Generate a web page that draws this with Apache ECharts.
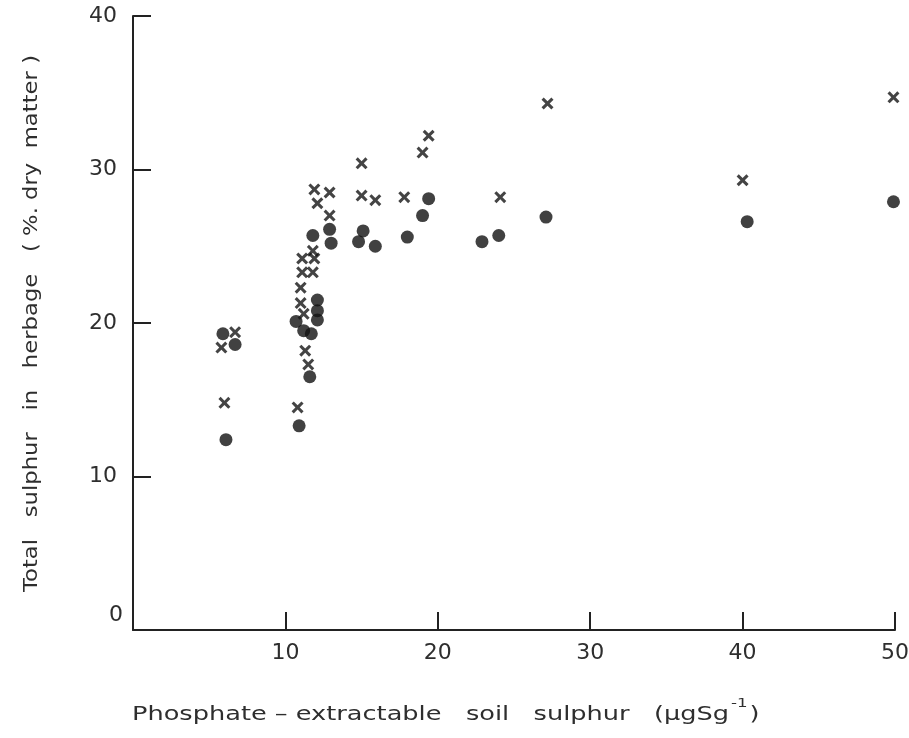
<!DOCTYPE html>
<html><head><meta charset="utf-8">
<script src="https://cdn.jsdelivr.net/npm/echarts@6/dist/echarts.min.js"></script>
<style>html,body{margin:0;padding:0;background:#fff}#c{width:909px;height:738px}</style>
</head><body><div id="c"></div>
<script>
// Phosphate-extractable soil sulphur (x) vs total sulphur in herbage (y)
const crossX = [5.8, 6.7, 6.0, 10.8, 11.0, 11.0, 11.1, 11.1, 11.8, 11.9, 11.8, 11.9, 12.1, 12.9, 12.9, 11.3, 11.5, 11.2, 15.0, 15.0, 15.9, 17.8, 19.0, 19.4, 24.1, 27.2, 40.0, 49.9];
const crossY = [18.4, 19.4, 14.8, 14.5, 21.3, 22.3, 23.3, 24.2, 23.3, 24.2, 24.7, 28.7, 27.8, 28.5, 27.0, 18.2, 17.3, 20.6, 30.4, 28.3, 28.0, 28.2, 31.1, 32.2, 28.2, 34.3, 29.3, 34.7];
const dotX = [5.9, 6.7, 6.1, 10.9, 11.6, 10.7, 11.2, 11.7, 12.1, 12.1, 12.1, 11.8, 12.9, 13.0, 14.8, 15.1, 15.9, 18.0, 19.0, 19.4, 22.9, 24.0, 27.1, 40.3, 49.9];
const dotY = [19.3, 18.6, 12.4, 13.3, 16.5, 20.1, 19.5, 19.3, 20.2, 20.8, 21.5, 25.7, 26.1, 25.2, 25.3, 26.0, 25.0, 25.6, 27.0, 28.1, 25.3, 25.7, 26.9, 26.6, 27.9];
const xTicks = [10, 20, 30, 40, 50];
const yTicks = [10, 20, 30, 40];
const xTitle = 'Phosphate \u2013 extractable   soil   sulphur   (\u03bcgSg';
const xTitleSup = '-1';
const xTitleEnd = ')';
const yTitle = 'Total   sulphur   in   herbage   ( %. dry  matter )';

const pairs = (xs, ys) => xs.map((v, i) => [v, ys[i]]);
const xPath = 'path://M0,1.8L1.8,0L5,3.2L8.2,0L10,1.8L6.8,5L10,8.2L8.2,10L5,6.8L1.8,10L0,8.2L3.2,5Z';
const font = '"DejaVu Sans", sans-serif';
const txtColor = '#2e2e2e';
const ctx = document.createElement('canvas').getContext('2d');
function measure(t, size) { ctx.font = size + 'px ' + font; return ctx.measureText(t).width; }
const sx = (729 - 132) / measure(xTitle, 20);
const xW = measure(xTitle, 20) * sx;
const supW = measure(xTitleSup, 13) * sx;
const ySx = (592 - 55) / measure(yTitle, 20);
const graphics = [
  { type: 'text', left: 109, top: 604, style: { text: '0', fontSize: 22, fill: txtColor, fontFamily: font } },
  { type: 'text', x: 132, y: 715, scaleX: sx, style: { text: xTitle, fontSize: 20, fill: txtColor, fontFamily: font, verticalAlign: 'middle' } },
  { type: 'text', x: 132 + xW + 2, y: 704, scaleX: sx, style: { text: xTitleSup, fontSize: 13, fill: txtColor, fontFamily: font, verticalAlign: 'middle' } },
  { type: 'text', x: 132 + xW + supW + 4, y: 715, scaleX: sx, style: { text: xTitleEnd, fontSize: 20, fill: txtColor, fontFamily: font, verticalAlign: 'middle' } },
  { type: 'text', x: 32, y: 592, rotation: Math.PI / 2, scaleX: ySx, style: { text: yTitle, fontSize: 20, fill: txtColor, fontFamily: font, verticalAlign: 'middle' } }
];

const chart = echarts.init(document.getElementById('c'));
chart.setOption({
  animation: false,
  backgroundColor: '#fff',
  grid: { left: 133, right: 14, top: 16, bottom: 108, containLabel: false, outerBoundsMode: 'none' },
  xAxis: {
    type: 'value', min: 0, max: 50, interval: 10,
    axisLine: { lineStyle: { color: '#222', width: 2 } },
    axisTick: { inside: true, length: 18, lineStyle: { color: '#222', width: 2 } },
    splitLine: { show: false },
    axisLabel: { margin: 12, fontSize: 22, color: txtColor, fontFamily: font,
      formatter: v => xTicks.includes(v) ? String(v) : '' }
  },
  yAxis: {
    type: 'value', min: 0, max: 40, interval: 10,
    axisLine: { lineStyle: { color: '#222', width: 2 } },
    axisTick: { inside: true, length: 18, lineStyle: { color: '#222', width: 2 } },
    splitLine: { show: false },
    axisLabel: { margin: 16, fontSize: 22, color: txtColor, fontFamily: font,
      formatter: v => yTicks.includes(v) ? String(v) : '' }
  },
  graphic: graphics,
  series: [
    { type: 'scatter', data: pairs(dotX, dotY), symbol: 'circle', symbolSize: 13,
      itemStyle: { color: '#111' } },
    { type: 'scatter', data: pairs(crossX, crossY), symbol: xPath, symbolSize: 12,
      itemStyle: { color: '#151515' } }
  ]
});
</script></body></html>
